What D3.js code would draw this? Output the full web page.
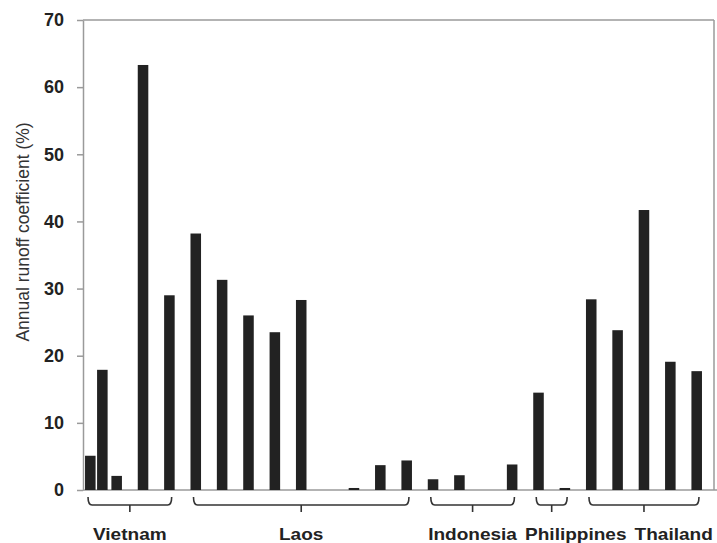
<!DOCTYPE html>
<html>
<head>
<meta charset="utf-8">
<script src="https://cdn.jsdelivr.net/npm/d3@7"></script>
<style>
    html, body { margin: 0; padding: 0; background: #fff; }
    svg { display: block; }
</style>
</head>
<body>
<svg id="chart"></svg>
<script>
// groups of sites along the x axis
let groups = ["Vietnam", "Laos", "Indonesia", "Philippines", "Thailand"];

// one entry per site: group, x slot (category index), runoff coefficient
let siteGroup = [
    "Vietnam", "Vietnam", "Vietnam", "Vietnam", "Vietnam",
    "Laos", "Laos", "Laos", "Laos", "Laos", "Laos", "Laos", "Laos", "Laos",
    "Indonesia", "Indonesia", "Indonesia", "Indonesia",
    "Philippines", "Philippines",
    "Thailand", "Thailand", "Thailand", "Thailand", "Thailand"
];
let siteSlot = [0, 0, 1, 2, 3, 4, 5, 6, 7, 8, 9, 10, 11, 12, 13, 14, 15, 16, 17, 18, 19, 20, 21, 22, 23];
let siteValue = [
    5.1, 17.9, 2.1, 63.3, 29.0,
    38.2, 31.3, 26.0, 23.5, 28.3, 0, 0.3, 3.7, 4.4,
    1.6, 2.2, 0, 3.8,
    14.5, 0.3,
    28.4, 23.8, 41.7, 19.1, 17.7
];
let yTicks = [0, 10, 20, 30, 40, 50, 60, 70];
let yLabel = "Annual runoff coefficient (%)";

let width = 717;
let height = 543;
let margin = {top: 20, right: 3, bottom: 53, left: 83};

let svg = d3.select("#chart").attr("width", width).attr("height", height);

let y = d3.scaleLinear([0, 70], [height - margin.bottom, margin.top]);
let x = d3.scaleBand()
    .domain(d3.range(24))
    .range([70, width])
    .paddingInner(0.6)
    .paddingOuter(0.57);

// sites sharing a slot are placed side by side
let sites = siteValue.map((v, i) => ({group: siteGroup[i], slot: siteSlot[i], value: v}));
let inSlot = {};
sites.forEach(d => {
    d.k = inSlot[d.slot] || 0;
    inSlot[d.slot] = d.k + 1;
    d.x = x(d.slot) + d.k * (x.bandwidth() + 1.5);
});

let axisColor = "#9a9a9a";

// frame: top and right
svg.append("line")
    .attr("x1", margin.left).attr("x2", width - margin.right)
    .attr("y1", y(70)).attr("y2", y(70))
    .attr("stroke", axisColor).attr("stroke-width", 1.5);
svg.append("line")
    .attr("x1", width - margin.right).attr("x2", width - margin.right)
    .attr("y1", y(70)).attr("y2", y(0))
    .attr("stroke", axisColor).attr("stroke-width", 1.5);

// baseline
svg.append("line")
    .attr("x1", margin.left).attr("x2", width)
    .attr("y1", y(0)).attr("y2", y(0))
    .attr("stroke", axisColor).attr("stroke-width", 1.5);

// bars
svg.append("g")
    .selectAll("rect")
    .data(sites)
    .join("rect")
    .attr("x", d => d.x)
    .attr("width", x.bandwidth())
    .attr("y", d => y(d.value))
    .attr("height", d => y(0) - y(d.value))
    .attr("fill", "#222");

// y axis
let yAxis = svg.append("g")
    .attr("transform", `translate(${margin.left},0)`)
    .call(d3.axisLeft(y).tickValues(yTicks).tickSize(6).tickPadding(13).tickSizeOuter(0));
yAxis.select(".domain").attr("stroke", axisColor).attr("stroke-width", 1.5);
yAxis.selectAll(".tick line").attr("stroke", axisColor).attr("stroke-width", 1.5);
yAxis.selectAll(".tick text")
    .attr("fill", "#222")
    .style("font", "bold 18px 'Liberation Sans', Arial, sans-serif");

svg.append("text")
    .attr("transform", `translate(23,${(y(0) + y(70)) / 2 - 23}) rotate(-90)`)
    .attr("text-anchor", "middle")
    .attr("dy", "0.35em")
    .attr("fill", "#333")
    .style("font", "17.5px 'Liberation Sans', Arial, sans-serif")
    .text(yLabel);

// brackets under each group
let bracketTop = y(0) + 7;
let bracketMid = y(0) + 15;
let bracketTip = y(0) + 22;

let spans = groups.map(g => {
    let s = sites.filter(d => d.group === g);
    let x1 = d3.min(s, d => d.x) + 3;
    let x2 = d3.max(s, d => d.x + x.bandwidth()) - 3;
    return {group: g, x1, x2, mid: (x1 + x2) / 2};
});

svg.append("g")
    .attr("fill", "none")
    .attr("stroke", "#333")
    .attr("stroke-width", 1.6)
    .selectAll("path")
    .data(spans)
    .join("path")
    .attr("d", d => `M${d.x1},${bracketTop} Q${d.x1},${bracketMid} ${d.x1 + 4},${bracketMid}`
        + ` H${d.x2 - 4} Q${d.x2},${bracketMid} ${d.x2},${bracketTop}`
        + ` M${d.mid},${bracketMid} V${bracketTip}`);

// group labels, pushed right where they would collide
let labelScale = 1.12;
let labels = svg.append("g")
    .selectAll("text")
    .data(spans)
    .join("text")
    .attr("fill", "#222")
    .style("font", "bold 17px 'Liberation Sans', Arial, sans-serif")
    .text(d => d.group);

let prevRight = -Infinity;
labels.each(function (d) {
    let w = this.getComputedTextLength() * labelScale;
    let left = Math.max(d.mid - w / 2, prevRight + 8);
    prevRight = left + w;
    d3.select(this).attr("transform", `translate(${left},540) scale(${labelScale},1)`);
});
</script>
</body>
</html>
